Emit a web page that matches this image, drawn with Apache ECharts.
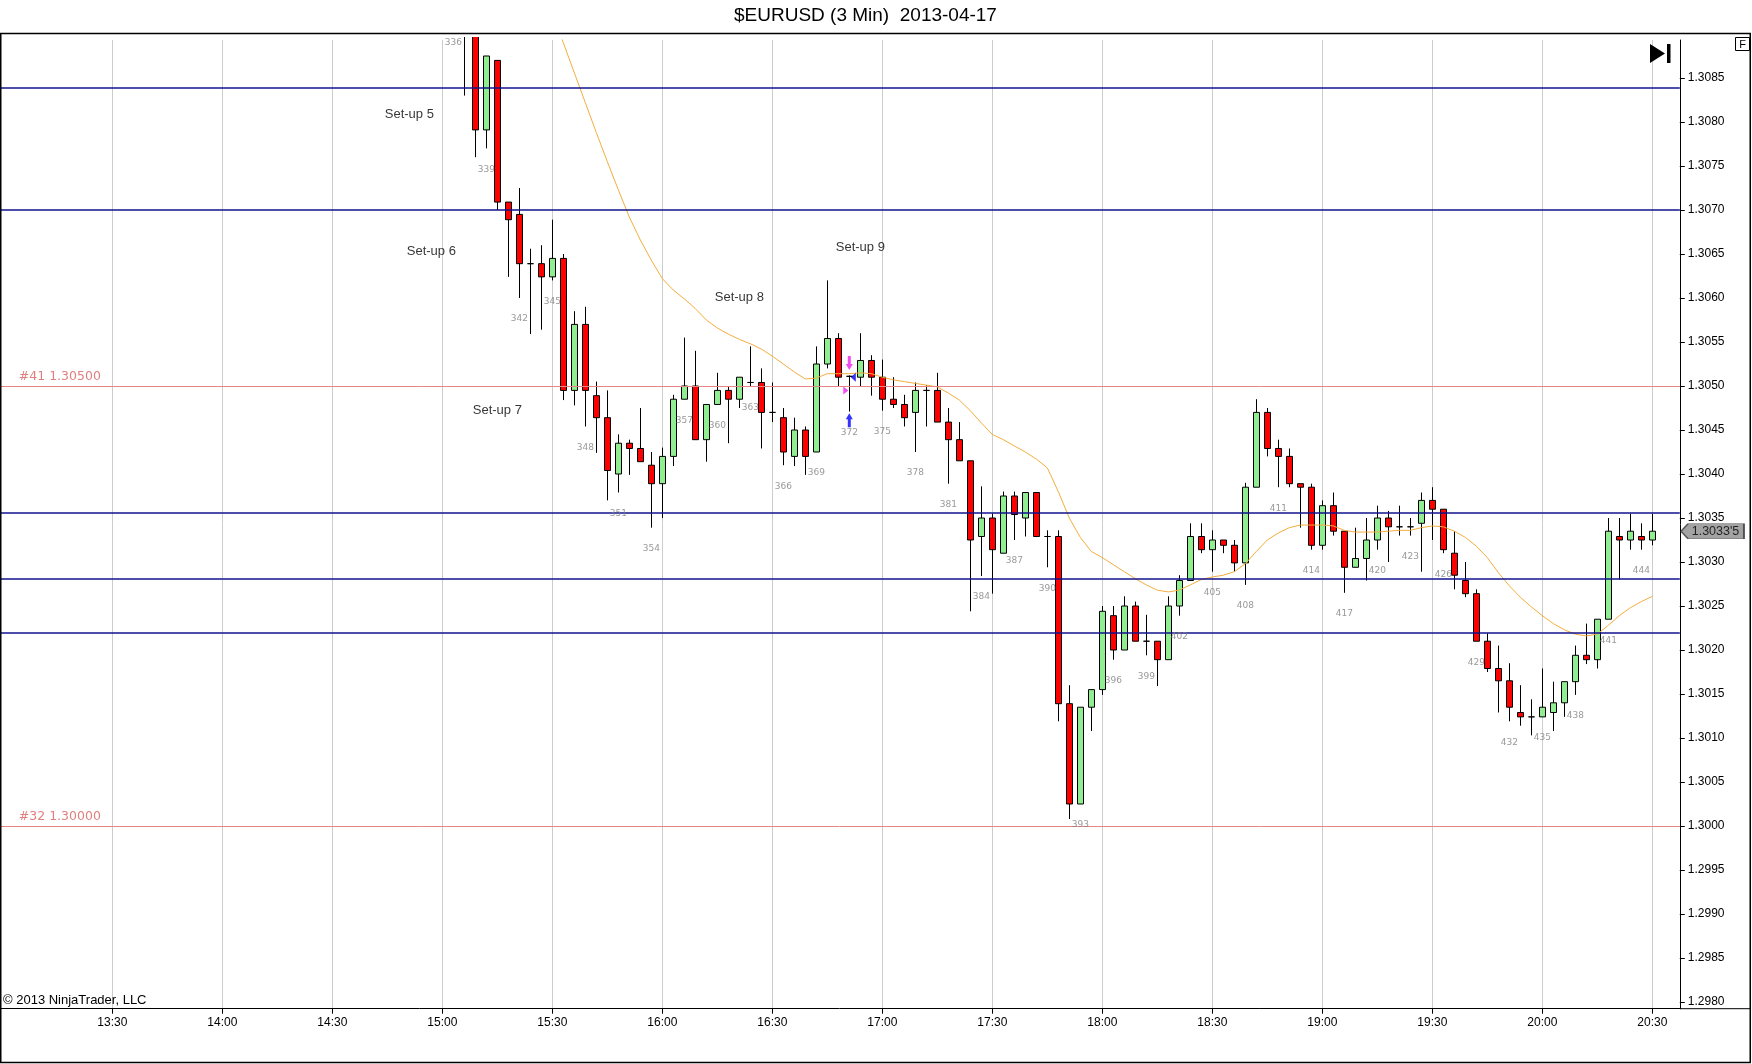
<!DOCTYPE html>
<html>
<head>
<meta charset="utf-8">
<script src="https://cdn.jsdelivr.net/npm/echarts@6/dist/echarts.min.js"></script>
<style>
html,body{margin:0;padding:0;background:#fff;}
#chart{width:1752px;height:1064px;}
</style>
</head>
<body>
<div id="chart"></div>
<script>
// ---------- DATA ----------
const axisStart = '13:00';      // first category on the time axis
const axisEnd = '20:36';        // last category on the time axis
const firstBarTime = '15:03';   // time of the first bar
const firstBarNumber = 336;     // bar number of the first bar

const barOpen = [
1.30935,1.30905,1.30900,1.30791,1.30870,1.30709,1.30695,1.30639,1.30639,1.30624,
1.30645,1.30495,1.30570,1.30489,1.30464,1.30400,1.30435,1.30429,1.30410,1.30389,
1.30420,1.30485,1.30500,1.30439,1.30479,1.30495,1.30485,1.30504,1.30504,1.30470,
1.30464,1.30420,1.30450,1.30425,1.30525,1.30554,1.30511,1.30510,1.30529,1.30510,
1.30485,1.30479,1.30470,1.30495,1.30495,1.30459,1.30439,1.30415,1.30329,1.30350,
1.30310,1.30375,1.30350,1.30379,1.30329,1.30329,1.30139,1.30025,1.30135,1.30155,
1.30239,1.30200,1.30250,1.30210,1.30210,1.30189,1.30250,1.30279,1.30329,1.30314,
1.30325,1.30319,1.30299,1.30385,1.30470,1.30429,1.30420,1.30389,1.30385,1.30319,
1.30364,1.30335,1.30294,1.30304,1.30325,1.30350,1.30340,1.30340,1.30344,1.30370,
1.30360,1.30310,1.30279,1.30264,1.30210,1.30179,1.30165,1.30129,1.30124,1.30124,
1.30129,1.30140,1.30164,1.30194,1.30189,1.30235,1.30329,1.30325,1.30329,1.30325
];
const barClose = [
1.30925,1.30898,1.30791,1.30875,1.30709,1.30689,1.30639,1.30639,1.30624,1.30645,
1.30495,1.30570,1.30495,1.30464,1.30404,1.30435,1.30429,1.30414,1.30389,1.30420,
1.30485,1.30500,1.30439,1.30479,1.30495,1.30485,1.30510,1.30504,1.30470,1.30470,
1.30425,1.30450,1.30420,1.30525,1.30554,1.30510,1.30511,1.30529,1.30510,1.30485,
1.30479,1.30464,1.30495,1.30495,1.30459,1.30439,1.30415,1.30325,1.30350,1.30314,
1.30375,1.30354,1.30379,1.30329,1.30329,1.30139,1.30025,1.30135,1.30155,1.30244,
1.30200,1.30250,1.30210,1.30210,1.30189,1.30250,1.30279,1.30329,1.30314,1.30325,
1.30319,1.30299,1.30385,1.30470,1.30429,1.30420,1.30389,1.30385,1.30319,1.30364,
1.30335,1.30294,1.30304,1.30325,1.30350,1.30340,1.30340,1.30340,1.30370,1.30360,
1.30314,1.30285,1.30264,1.30210,1.30179,1.30165,1.30135,1.30124,1.30124,1.30135,
1.30140,1.30164,1.30194,1.30189,1.30235,1.30335,1.30325,1.30335,1.30325,1.30335
];
const barLow = [
1.30914,1.30830,1.30760,1.30770,1.30700,1.30624,1.30600,1.30559,1.30564,1.30620,
1.30484,1.30478,1.30454,1.30424,1.30370,1.30379,1.30399,1.30414,1.30339,1.30350,
1.30409,1.30485,1.30439,1.30414,1.30479,1.30435,1.30475,1.30499,1.30429,1.30459,
1.30410,1.30409,1.30399,1.30425,1.30520,1.30499,1.30471,1.30499,1.30489,1.30472,
1.30475,1.30454,1.30425,1.30454,1.30459,1.30389,1.30415,1.30244,1.30284,1.30264,
1.30310,1.30325,1.30329,1.30329,1.30294,1.30119,1.30008,1.30025,1.30108,1.30149,
1.30189,1.30200,1.30210,1.30194,1.30159,1.30189,1.30239,1.30279,1.30310,1.30289,
1.30310,1.30289,1.30274,1.30385,1.30420,1.30385,1.30385,1.30339,1.30314,1.30314,
1.30330,1.30265,1.30294,1.30279,1.30314,1.30300,1.30330,1.30330,1.30289,1.30325,
1.30310,1.30269,1.30260,1.30210,1.30175,1.30129,1.30119,1.30114,1.30103,1.30124,
1.30108,1.30124,1.30149,1.30184,1.30179,1.30235,1.30280,1.30314,1.30314,1.30319
];
const barHigh = [
1.30950,1.30910,1.30905,1.30875,1.30870,1.30709,1.30725,1.30656,1.30660,1.30689,
1.30650,1.30585,1.30590,1.30505,1.30495,1.30445,1.30439,1.30475,1.30425,1.30430,
1.30490,1.30555,1.30540,1.30479,1.30515,1.30500,1.30510,1.30545,1.30520,1.30504,
1.30475,1.30464,1.30454,1.30545,1.30620,1.30560,1.30512,1.30560,1.30535,1.30530,
1.30510,1.30490,1.30504,1.30501,1.30515,1.30475,1.30459,1.30415,1.30386,1.30355,
1.30380,1.30380,1.30379,1.30379,1.30336,1.30336,1.30160,1.30135,1.30155,1.30250,
1.30250,1.30261,1.30255,1.30240,1.30210,1.30261,1.30285,1.30344,1.30344,1.30336,
1.30325,1.30325,1.30390,1.30485,1.30475,1.30439,1.30429,1.30389,1.30389,1.30370,
1.30379,1.30335,1.30339,1.30350,1.30364,1.30358,1.30364,1.30350,1.30379,1.30385,
1.30360,1.30335,1.30300,1.30269,1.30219,1.30205,1.30185,1.30160,1.30144,1.30179,
1.30164,1.30164,1.30205,1.30230,1.30235,1.30350,1.30350,1.30355,1.30344,1.30355
];

// moving average line (orange), starting at this time
const maStartTime = '15:30';
const maValues = [
1.30925,
1.30890,1.30856,1.30822,1.30788,1.30755,1.30723,1.30692,1.30666,1.30643,1.30622,
1.30609,1.30599,1.30588,1.30575,1.30566,1.30559,1.30553,1.30548,1.30542,1.30534,
1.30525,1.30516,1.30508,1.30509,1.30514,1.30514,1.30514,1.30515,1.30514,1.30510,
1.30507,1.30505,1.30503,1.30501,1.30499,1.30492,1.30484,1.30472,1.30458,1.30445,
1.30439,1.30432,1.30425,1.30417,1.30407,1.30380,1.30350,1.30328,1.30312,1.30305,
1.30297,1.30289,1.30281,1.30274,1.30268,1.30266,1.30268,1.30274,1.30280,1.30283,
1.30285,1.30289,1.30298,1.30312,1.30325,1.30333,1.30339,1.30342,1.30342,1.30342,
1.30341,1.30336,1.30334,1.30334,1.30334,1.30335,1.30336,1.30336,1.30339,1.30341,
1.30340,1.30335,1.30328,1.30318,1.30305,1.30288,1.30273,1.30260,1.30249,1.30239,
1.30230,1.30223,1.30218,1.30216,1.30218,1.30228,1.30239,1.30248,1.30255,1.30261
];

// price axis tick labels
const yTicks = [1.2980,1.2985,1.2990,1.2995,1.3000,1.3005,1.3010,1.3015,1.3020,1.3025,1.3030,
  1.3035,1.3040,1.3045,1.3050,1.3055,1.3060,1.3065,1.3070,1.3075,1.3080,1.3085];
const yMin = 1.297924;
const yMax = 1.3089318;

// horizontal drawn lines
const blueLevels = [1.30839, 1.30700, 1.30356, 1.30281, 1.30220];
const redLevels = [1.30500, 1.30000];
const redLevelTexts = ['#41 1.30500', '#32 1.30000'];

// text annotations
const setupTexts = ['Set-up 5','Set-up 6','Set-up 7','Set-up 8','Set-up 9'];
const setupTimes = ['14:51','14:57','15:15','16:21','16:54'];
const setupPrices = [1.30809, 1.30653, 1.30472, 1.30601, 1.30658];

// trade markers
const markerTimes = ['16:51','16:51','16:51','16:51'];
const markerPrices = [1.30526, 1.30510, 1.30495, 1.30461];
const markerKinds = ['downArrow','leftTri','rightTri','upArrow'];

const titleText = '$EURUSD (3 Min)  2013-04-17';

// ---------- BUILD ----------
function toMin(t){const p=t.split(':');return (+p[0])*60+(+p[1]);}
function fmtT(m){const h=Math.floor(m/60),mm=m%60;return h+':'+(mm<10?'0':'')+mm;}
const categories=[];
for(let m=toMin(axisStart);m<=toMin(axisEnd);m+=3)categories.push(fmtT(m));
const barTimes=barOpen.map((_,i)=>fmtT(toMin(firstBarTime)+3*i));
const candleData=barTimes.map((t,i)=>[t,barOpen[i],barClose[i],barLow[i],barHigh[i]]);
const maData=maValues.map((v,i)=>[fmtT(toMin(maStartTime)+3*i),v]);
const numberData=[];
barTimes.forEach((t,i)=>{ if(i%3===0) numberData.push([t,barLow[i],firstBarNumber+i]); });
const setupData=setupTexts.map((s,i)=>[setupTimes[i],setupPrices[i],s]);

const shapes={
  downArrow:{symbol:'path://M2,0 L5,0 L5,8 L7,8 L3.5,14 L0,8 L2,8 Z',size:[7,14],color:'#ee22ee',dx:0},
  upArrow:{symbol:'path://M3.5,0 L7,6 L5,6 L5,14 L2,14 L2,6 L0,6 Z',size:[7,14],color:'#0000ff',dx:0},
  leftTri:{symbol:'path://M0,5 L5,0 L5,10 Z',size:[5,9],color:'#0000ee',dx:4},
  rightTri:{symbol:'path://M0,0 L5,5 L0,10 Z',size:[5,8],color:'#ee22ee',dx:-3.5}
};
const markerData=markerTimes.map((t,i)=>{
  const s=shapes[markerKinds[i]];
  return {value:[t,markerPrices[i]],symbol:s.symbol,symbolSize:s.size,symbolOffset:[s.dx,0],itemStyle:{color:s.color}};
});

const lastTime=barTimes[barTimes.length-1];
const lastClose=barClose[barClose.length-1];
function pipFmt(v){const s=v.toFixed(5);return s.slice(0,6)+"'"+s.slice(6);}

const levelData=[];
blueLevels.forEach(v=>levelData.push({yAxis:v,lineStyle:{color:'#12128e',width:1.6,type:'solid'},label:{show:false}}));
redLevels.forEach((v,i)=>levelData.push({yAxis:v,lineStyle:{color:'#e58585',width:1,type:'solid'},
  label:{show:true,position:'insideStartTop',formatter:redLevelTexts[i],color:'#e07f7f',fontSize:12.5,
  fontFamily:'DejaVu Sans',padding:[0,0,0,19],distance:3}}));

const isGridTime=(idx,val)=>idx>0 && /:(00|30)$/.test(val);
const FONT='Liberation Sans';

const chart=echarts.init(document.getElementById('chart'),null,{renderer:'canvas'});
chart.setOption({
  animation:false,
  backgroundColor:'#ffffff',
  title:{text:titleText,left:734,top:6,padding:0,z:300,
    textStyle:{fontSize:19,lineHeight:20,fontWeight:'normal',fontFamily:FONT,color:'#000'}},
  grid:{left:-3.2,right:72.2,top:40,bottom:55.3,containLabel:false,outerBoundsMode:'none'},
  xAxis:{
    type:'category',data:categories,boundaryGap:true,
    axisLine:{show:true,lineStyle:{color:'#000',width:1}},
    axisTick:{show:true,alignWithLabel:true,interval:isGridTime,length:5,lineStyle:{color:'#000'}},
    axisLabel:{interval:isGridTime,color:'#000',fontSize:12,fontFamily:FONT,margin:8},
    splitLine:{show:true,alignWithLabel:true,interval:isGridTime,lineStyle:{color:'#cccccc',width:1}}
  },
  yAxis:{
    type:'value',position:'right',min:yMin,max:yMax,scale:true,
    axisLine:{show:true,lineStyle:{color:'#000',width:1}},
    axisTick:{show:true,length:5,customValues:yTicks,lineStyle:{color:'#000'}},
    axisLabel:{customValues:yTicks,formatter:v=>v.toFixed(4),color:'#000',fontSize:12,fontFamily:FONT,margin:8},
    splitLine:{show:false}
  },
  series:[
    {
      type:'candlestick',name:'$EURUSD',z:2,barWidth:7,clip:true,
      data:candleData,encode:{x:0,y:[1,2,3,4]},
      itemStyle:{color:'#90ee90',color0:'#ff0000',borderColor:'#000',borderColor0:'#000',borderColorDoji:'#000',borderWidth:1}
    },
    {
      type:'line',name:'MA',z:3,data:maData,showSymbol:false,symbol:'none',clip:true,
      lineStyle:{color:'#f3ad3e',width:1},
      markLine:{silent:true,symbol:['none','none'],precision:5,z:4,data:levelData}
    },
    {
      type:'scatter',name:'bar numbers',z:5,clip:false,data:numberData,encode:{x:0,y:1},
      symbolSize:1,itemStyle:{color:'rgba(0,0,0,0)'},
      label:{show:true,position:'inside',offset:[0,21],formatter:p=>String(p.value[2]),
        color:'#808080',fontSize:9,fontFamily:'DejaVu Sans'}
    },
    {
      type:'scatter',name:'setups',z:5,clip:false,data:setupData,encode:{x:0,y:1},
      symbolSize:1,itemStyle:{color:'rgba(0,0,0,0)'},
      label:{show:true,position:'inside',formatter:p=>p.value[2],color:'#000',fontSize:13,fontFamily:FONT}
    },
    {
      type:'scatter',name:'markers',z:6,clip:false,data:markerData
    },
    {
      type:'scatter',name:'last price',z:7,clip:false,data:[[lastTime,lastClose]],
      symbol:'path://M0,7.5 L7,0 L63,0 L63,15 L7,15 Z',symbolSize:[63,15],symbolOffset:[60.2,0],
      itemStyle:{color:'#8c8c8c',borderColor:'#3a3a3a',borderWidth:1},
      label:{show:true,position:'inside',offset:[3,0],formatter:()=>pipFmt(lastClose),color:'#000',fontSize:12.5,fontFamily:FONT}
    }
  ],
  graphic:[
    {type:'rect',z:90,silent:true,shape:{x:1,y:0,width:1679,height:37},style:{fill:'#ffffff'}},
    {type:'rect',z:100,silent:true,shape:{x:0.75,y:33.5,width:1749.5,height:1029},style:{fill:'none',stroke:'#000',lineWidth:1.5}},
    {type:'line',z:100,silent:true,shape:{x1:1680,y1:1008.7,x2:1750,y2:1008.7},style:{stroke:'#000',lineWidth:1}},
    {type:'polygon',z:100,silent:true,shape:{points:[[1650,44],[1665,53.5],[1650,63]]},style:{fill:'#000'}},
    {type:'rect',z:100,silent:true,shape:{x:1667,y:44,width:3.5,height:19},style:{fill:'#000'}},
    {type:'rect',z:100,silent:true,shape:{x:1735.5,y:37.5,width:14,height:13},style:{fill:'#fff',stroke:'#000',lineWidth:1}},
    {type:'text',z:101,silent:true,style:{x:1742.5,y:44.5,text:'F',align:'center',verticalAlign:'middle',font:'11px "Liberation Sans"',fill:'#000'}},
    {type:'text',z:101,silent:true,style:{x:3,y:1000,text:'© 2013 NinjaTrader, LLC',align:'left',verticalAlign:'middle',font:'13px "Liberation Sans"',fill:'#000'}}
  ]
});
</script>
</body>
</html>
